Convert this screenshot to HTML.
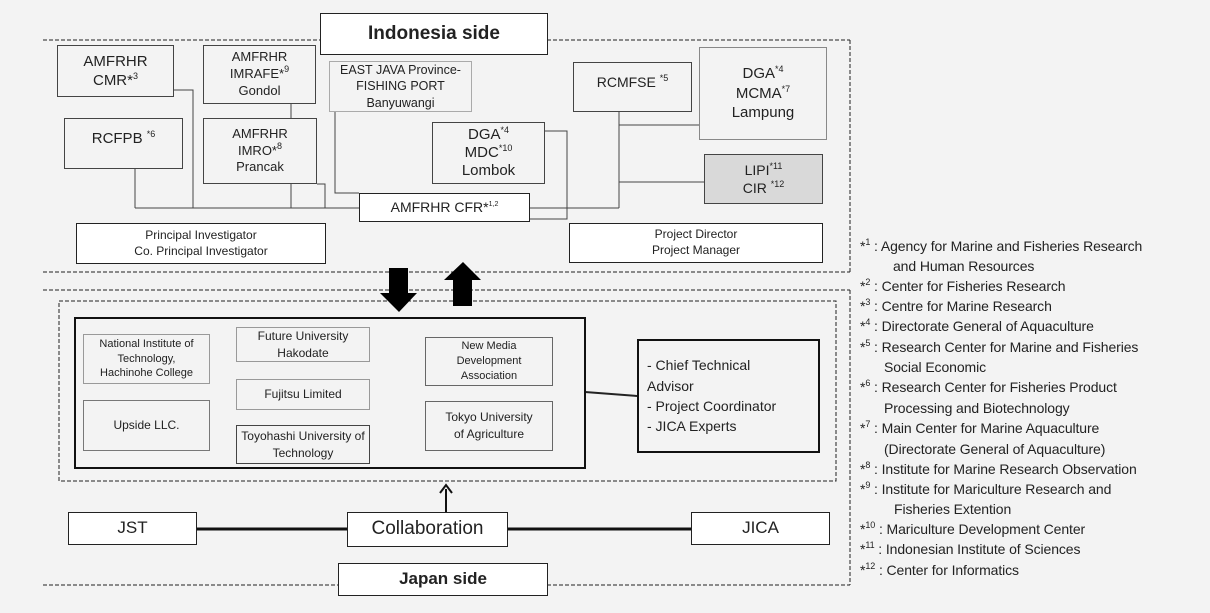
<!DOCTYPE html>
<html><head><meta charset="utf-8"><style>
body{margin:0;width:1210px;height:613px;background:#f3f3f3;position:relative;overflow:hidden;font-family:"Liberation Sans",sans-serif;color:#222}
.b{position:absolute;box-sizing:border-box;border:1px solid #444;background:#f3f3f3;display:flex;align-items:center;justify-content:center;text-align:center;line-height:1.3;font-size:14px}
.b>div{display:block}
.w{background:#fff;border:1.5px solid #222}
sup{font-size:9px;vertical-align:6px;line-height:0}
.n{position:absolute;left:860px;font-size:14px;color:#222;white-space:nowrap;letter-spacing:-0.1px}
.n sup{font-size:9px}
svg{position:absolute;left:0;top:0}
</style></head><body>
<svg width="1210" height="613">
<g stroke="#222" stroke-width="1" fill="none" stroke-dasharray="4,2">
<line x1="43" y1="40" x2="850" y2="40"/><line x1="850" y1="40" x2="850" y2="272"/><line x1="43" y1="272" x2="850" y2="272"/>
<line x1="43" y1="290" x2="850" y2="290"/><line x1="850" y1="290" x2="850" y2="585"/><line x1="43" y1="585" x2="850" y2="585"/>
<rect x="59" y="301" width="777" height="180"/>
</g>
<g stroke="#444" stroke-width="1" fill="none">
<polyline points="174,90 193,90 193,208"/>
<line x1="135" y1="169" x2="135" y2="208"/>
<line x1="135" y1="208" x2="359" y2="208"/>
<line x1="291" y1="104" x2="291" y2="118"/>
<line x1="291" y1="184" x2="291" y2="208"/>
<polyline points="317,184 325,184 325,208"/>
<polyline points="335,112 335,193 359,193"/>
<polyline points="545,131 567,131 567,219 530,219"/>
<line x1="530" y1="208" x2="619" y2="208"/>
<line x1="619" y1="112" x2="619" y2="208"/>
<line x1="619" y1="125" x2="699" y2="125"/>
<line x1="619" y1="182" x2="704" y2="182"/>
</g>
<polygon points="389,268 408,268 408,293 417,293 399,312 380,293 389,293" fill="#000"/>
<polygon points="463,262 481,280 472,280 472,306 453,306 453,280 444,280" fill="#000"/>
<line x1="585" y1="392" x2="637" y2="396" stroke="#222" stroke-width="2"/>
<line x1="197" y1="529" x2="347" y2="529" stroke="#111" stroke-width="3"/>
<line x1="508" y1="529" x2="691" y2="529" stroke="#111" stroke-width="3"/>
<line x1="446" y1="512" x2="446" y2="489" stroke="#111" stroke-width="2"/>
<polyline points="440,493 446,485 452,493" stroke="#111" stroke-width="2" fill="none"/>
</svg>

<div class="b w" style="left:320px;top:13px;width:228px;height:42px;font-size:19px;font-weight:bold"><div>Indonesia side</div></div>
<div class="b" style="left:57px;top:45px;width:117px;height:52px;font-size:15px"><div>AMFRHR<br>CMR*<sup>3</sup></div></div>
<div class="b" style="left:203px;top:45px;width:113px;height:59px;font-size:13px"><div>AMFRHR<br>IMRAFE*<sup>9</sup><br>Gondol</div></div>
<div class="b" style="left:329px;top:61px;width:143px;height:51px;font-size:12.5px;border-color:#aaa"><div>EAST JAVA Province-<br>FISHING PORT<br>Banyuwangi</div></div>
<div class="b" style="left:573px;top:62px;width:119px;height:50px;font-size:14px;align-items:flex-start;padding-top:10px"><div>RCMFSE <sup>*5</sup></div></div>
<div class="b" style="left:699px;top:47px;width:128px;height:93px;font-size:15px;border-color:#888"><div>DGA<sup>*4</sup><br>MCMA<sup>*7</sup><br>Lampung</div></div>
<div class="b" style="left:64px;top:118px;width:119px;height:51px;font-size:15px;align-items:flex-start;padding-top:10px"><div>RCFPB <sup>*6</sup></div></div>
<div class="b" style="left:203px;top:118px;width:114px;height:66px;font-size:13px"><div>AMFRHR<br>IMRO*<sup>8</sup><br>Prancak</div></div>
<div class="b" style="left:432px;top:122px;width:113px;height:62px;font-size:15px;line-height:1.2"><div>DGA<sup>*4</sup><br>MDC<sup>*10</sup><br>Lombok</div></div>
<div class="b" style="left:704px;top:154px;width:119px;height:50px;font-size:14px;background:#d9d9d9"><div>LIPI<sup>*11</sup><br>CIR <sup>*12</sup></div></div>
<div class="b w" style="left:359px;top:193px;width:171px;height:29px;font-size:14px"><div>AMFRHR CFR*<sup style="font-size:7px">1,2</sup></div></div>
<div class="b w" style="left:76px;top:223px;width:250px;height:41px;font-size:12px;border-width:1px"><div>Principal Investigator<br>Co. Principal Investigator</div></div>
<div class="b w" style="left:569px;top:223px;width:254px;height:40px;font-size:12px;border-width:1px"><div>Project Director<br>Project Manager</div></div>

<div class="b" style="left:74px;top:317px;width:512px;height:152px;border:2px solid #111;background:transparent"></div>
<div class="b" style="left:83px;top:334px;width:127px;height:50px;font-size:11px;border-color:#999;line-height:1.35"><div>National Institute of<br>Technology,<br>Hachinohe College</div></div>
<div class="b" style="left:83px;top:400px;width:127px;height:51px;font-size:12px;border-color:#777"><div>Upside LLC.</div></div>
<div class="b" style="left:236px;top:327px;width:134px;height:35px;font-size:12px;border-color:#999;line-height:1.35"><div>Future University<br>Hakodate</div></div>
<div class="b" style="left:236px;top:379px;width:134px;height:31px;font-size:12px;border-color:#999"><div>Fujitsu Limited</div></div>
<div class="b" style="left:236px;top:425px;width:134px;height:39px;font-size:12px;border-color:#444;line-height:1.35"><div>Toyohashi University of<br>Technology</div></div>
<div class="b" style="left:425px;top:337px;width:128px;height:49px;font-size:11px;border-color:#666;line-height:1.35"><div>New Media<br>Development<br>Association</div></div>
<div class="b" style="left:425px;top:401px;width:128px;height:50px;font-size:12px;border-color:#666;line-height:1.4"><div>Tokyo University<br>of Agriculture</div></div>
<div class="b" style="left:637px;top:339px;width:183px;height:114px;border:2px solid #111;font-size:14px;justify-content:flex-start;text-align:left;padding-left:8px;line-height:1.45"><div>- Chief Technical<br>Advisor<br>- Project Coordinator<br>- JICA Experts</div></div>

<div class="b w" style="left:68px;top:512px;width:129px;height:33px;font-size:17px;border-width:1px"><div>JST</div></div>
<div class="b w" style="left:347px;top:512px;width:161px;height:35px;font-size:19px;border-width:1px"><div>Collaboration</div></div>
<div class="b w" style="left:691px;top:512px;width:139px;height:33px;font-size:17px;border-width:1px"><div>JICA</div></div>
<div class="b w" style="left:338px;top:563px;width:210px;height:33px;font-size:17px;font-weight:bold;border-width:1px"><div>Japan side</div></div>

<div class="n" style="top:238px">*<sup>1</sup> : Agency for Marine and Fisheries Research</div>
<div class="n" style="top:258px;left:893px">and Human Resources</div>
<div class="n" style="top:278px">*<sup>2</sup> : Center for Fisheries Research</div>
<div class="n" style="top:298px">*<sup>3</sup> : Centre for Marine Research</div>
<div class="n" style="top:318px">*<sup>4</sup> : Directorate General of Aquaculture</div>
<div class="n" style="top:339px">*<sup>5</sup> : Research Center for Marine and Fisheries</div>
<div class="n" style="top:359px;left:884px">Social Economic</div>
<div class="n" style="top:379px">*<sup>6</sup> : Research Center for Fisheries Product</div>
<div class="n" style="top:400px;left:884px">Processing and Biotechnology</div>
<div class="n" style="top:420px">*<sup>7</sup> : Main Center for Marine Aquaculture</div>
<div class="n" style="top:441px;left:884px">(Directorate General of Aquaculture)</div>
<div class="n" style="top:461px">*<sup>8</sup> : Institute for Marine Research Observation</div>
<div class="n" style="top:481px">*<sup>9</sup> : Institute for Mariculture Research and</div>
<div class="n" style="top:501px;left:894px">Fisheries Extention</div>
<div class="n" style="top:521px">*<sup>10</sup> : Mariculture Development Center</div>
<div class="n" style="top:541px">*<sup>11</sup> : Indonesian Institute of Sciences</div>
<div class="n" style="top:562px">*<sup>12</sup> : Center for Informatics</div>
</body></html>
